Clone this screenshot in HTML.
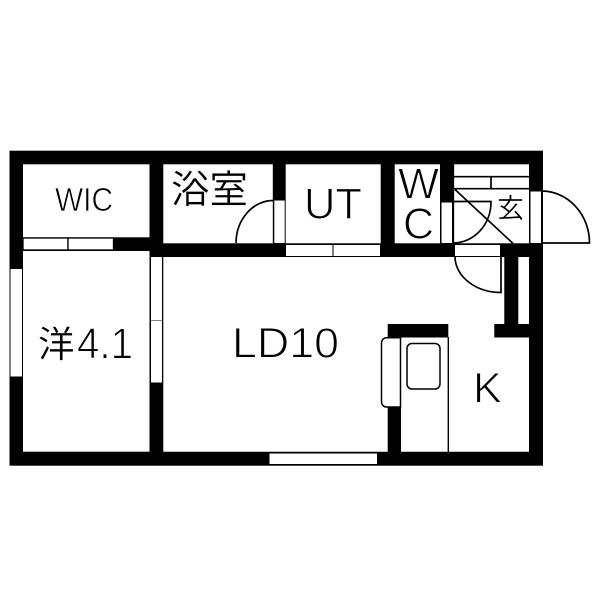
<!DOCTYPE html>
<html><head><meta charset="utf-8"><style>
html,body{margin:0;padding:0;background:#fff}
svg{display:block}
text{font-family:"Liberation Sans","Noto Sans CJK JP",sans-serif;fill:#000}
.t{stroke:#fff;stroke-width:1}
.j{stroke:#fff;stroke-width:.3}
</style></head><body>
<svg width="600" height="600" viewBox="0 0 600 600" xmlns="http://www.w3.org/2000/svg">
<rect width="600" height="600" fill="#fff"/>
<rect x="9.5" y="150.7" width="533.5" height="315" fill="#000"/>
<g fill="#fff">
<rect x="23" y="164.3" width="126.5" height="73"/>
<rect x="163.3" y="164.3" width="109.5" height="79"/>
<rect x="285.7" y="164.3" width="95" height="79"/>
<rect x="394.7" y="164.3" width="45.3" height="79"/>
<rect x="453.3" y="164.3" width="75.7" height="79"/>
<rect x="23" y="251" width="126.5" height="200.7"/>
<path d="M163.3 257H504.3V324H494.3V337.5H529V451.7H163.3Z"/>
<rect x="518.3" y="257" width="10.7" height="67"/>
</g>
<!-- kitchen block -->
<rect x="387.7" y="324" width="60.6" height="13.5" fill="#000"/>
<rect x="387.7" y="337" width="13.3" height="115" fill="#000"/>
<path d="M448.3 337V452" stroke="#000" stroke-width="1.4"/>
<path d="M400.5 337.8H386.5A5 5 0 0 0 381.5 342.8V402A5 5 0 0 0 386.5 407H400.5Z" fill="#fff" stroke="#000" stroke-width="1.5"/>
<rect x="407" y="343.5" width="33" height="45.5" rx="5" fill="#fff" stroke="#000" stroke-width="1.5"/>
<!-- windows / fittings -->
<g fill="#fff" stroke="#000" stroke-width="1.3">
<rect x="23" y="238" width="45" height="12"/>
<rect x="68" y="238" width="45.5" height="12"/>
<rect x="10.5" y="269" width="11.5" height="107.5" stroke="none"/>
<rect x="151" y="257" width="11" height="63" stroke="none"/>
<rect x="151" y="320.5" width="11" height="62" stroke="none"/>
<rect x="274.3" y="200.5" width="10.4" height="42.5" stroke="none"/>
<rect x="286" y="245" width="46.5" height="11" stroke="none"/>
<rect x="333.5" y="245" width="46.5" height="11" stroke="none"/>
<rect x="441.5" y="202.5" width="10.5" height="40.5" stroke="none"/>
<rect x="530.5" y="191.5" width="10.5" height="51.5" stroke="none"/>
<rect x="455" y="245" width="45" height="11" stroke="none"/>
<rect x="269.5" y="453.5" width="107.5" height="10.5" stroke="none"/>
</g>
<g fill="none" stroke="#000" stroke-width="1.7">
<path d="M236 243A37 43 0 0 1 273 200.5"/>
<path d="M453.3 164.3V243"/>
<path d="M453.3 176.7H529M453.3 188.7H529M491 176.7V188.7"/>
<path d="M455 189.5L513 243.5"/>
<path d="M453.3 201.5H491A38 41 0 0 1 453.3 243"/>
<path d="M542 191A48 52 0 0 1 589.5 243H542"/>
<path d="M455 257A46 36 0 0 0 501 292.5V257"/>
</g>
<!-- labels -->
<text class="t" x="55" y="211" font-size="33" textLength="58" lengthAdjust="spacingAndGlyphs" style="stroke-width:.7">WIC</text>
<text class="j" x="171" y="203" font-size="38.5">浴室</text>
<text class="t" x="304" y="218.3" font-size="44" textLength="58" lengthAdjust="spacingAndGlyphs">UT</text>
<text class="t" x="398" y="198.3" font-size="44" textLength="41" lengthAdjust="spacingAndGlyphs">W</text>
<text class="t" x="403" y="238.7" font-size="44" textLength="31" lengthAdjust="spacingAndGlyphs">C</text>
<text class="j" x="497" y="218" font-size="27">玄</text>
<text class="j" x="38" y="357" font-size="36.5">洋</text>
<text class="t" x="77" y="358.3" font-size="44" textLength="56" lengthAdjust="spacingAndGlyphs">4.1</text>
<text class="t" x="232" y="357.3" font-size="43" textLength="107" lengthAdjust="spacingAndGlyphs">LD10</text>
<text class="t" x="473" y="402.3" font-size="43" textLength="29" lengthAdjust="spacingAndGlyphs">K</text>
</svg>
</body></html>
